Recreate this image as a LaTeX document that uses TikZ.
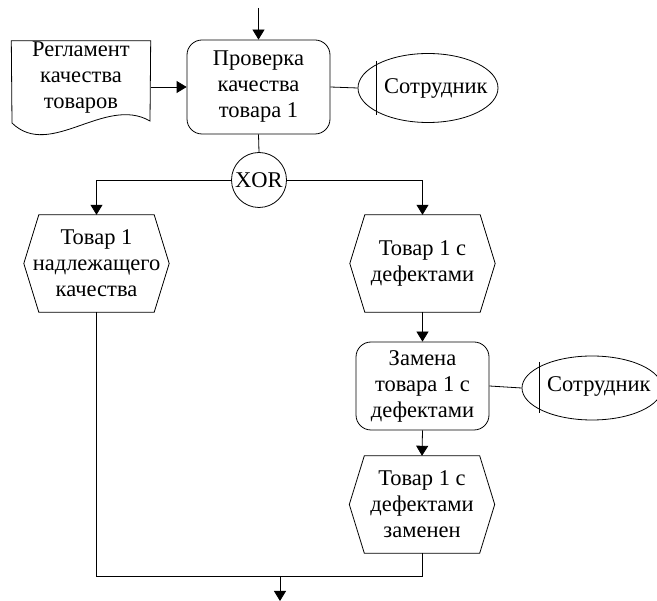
\documentclass[tikz,border=0pt]{standalone}
\usepackage{fontspec}
\setmainfont{Liberation Serif}
\usetikzlibrary{arrows.meta,shapes.geometric}
\tikzset{
  base/.style={inner sep=0pt, align=center, font=\fontsize{22.5}{26}\selectfont},
  line/.style={line width=0.8pt},
  proc/.style={base, draw, line, rounded corners=15pt},
  hexbox/.style={base, minimum width=145pt, minimum height=97pt},
  docbox/.style={base, minimum width=139pt, minimum height=82pt},
  actor/.style={base, draw, line, ellipse, inner sep=0pt},
  xorc/.style={base, draw, line, circle, minimum size=55pt},
  arr/.style={line, -{Triangle[length=10pt,width=12pt]}},
}
\newcommand{\hexdraw}[1]{\draw[line] ([xshift=15pt]#1.north west) -- ([xshift=-15pt]#1.north east) -- (#1.east) -- ([xshift=-15pt]#1.south east) -- ([xshift=15pt]#1.south west) -- (#1.west) -- cycle;}
\begin{document}
\begin{tikzpicture}[x=1pt,y=-1pt]
\useasboundingbox (0,0) rectangle (657,601);
\coordinate (top) at (258.5,8);
\node[proc, minimum width=143pt, minimum height=94pt] (p1) at (258.5,87) {Проверка\\качества\\товара 1};
\node[docbox] (doc) at (81,82) {};
\node[base] (doct) at (81,78) {Регламент\\качества\\товаров};
\draw[line] (doc.north west) -- (doc.north east) -- (150,121) .. controls (105,95) and (50,160) .. (12,123) -- cycle;
\node[actor, minimum width=140pt, minimum height=69pt] (e1) at (428,88) {};
\node[base, anchor=west] (e1t) at (384,88) {Сотрудник};
\draw[line] (376,61) -- (376,115);
\node[xorc] (xor) at (259,180) {XOR};
\node[hexbox] (h1) at (96.5,263.5) {Товар 1\\надлежащего\\качества};
\node[hexbox] (h2) at (422.5,263.5) {Товар 1 с\\дефектами};
\node[proc, minimum width=133pt, minimum height=88pt] (p2) at (422.5,386) {Замена\\товара 1 с\\дефектами};
\node[actor, minimum width=140pt, minimum height=64pt] (e2) at (592,388) {};
\node[base, anchor=west] (e2t) at (547,386) {Сотрудник};
\draw[line] (539,362) -- (539,413);
\node[hexbox] (h3) at (422,504.5) {Товар 1 с\\дефектами\\заменен};
\hexdraw{h1}
\hexdraw{h2}
\hexdraw{h3}
\coordinate (merge) at (280,576);
\coordinate (bottom) at (280,601);
\draw[arr] (top) -- (p1.north);
\draw[arr] (doc.east |- p1.west) -- (p1.west);
\draw[line] (p1.east) -- (e1.west);
\draw[line] (p1.south) -- (xor.north);
\draw[arr] (xor.west) -| (h1.north);
\draw[arr] (xor.east) -| (h2.north);
\draw[arr] (h2.south) -- (p2.north);
\draw[line] (p2.east) -- (e2.west);
\draw[arr] (p2.south) -- (h3.north);
\draw[line] (h1.south) |- (merge);
\draw[line] (h3.south) |- (merge);
\draw[arr] (merge) -- (bottom);
\end{tikzpicture}
\end{document}
